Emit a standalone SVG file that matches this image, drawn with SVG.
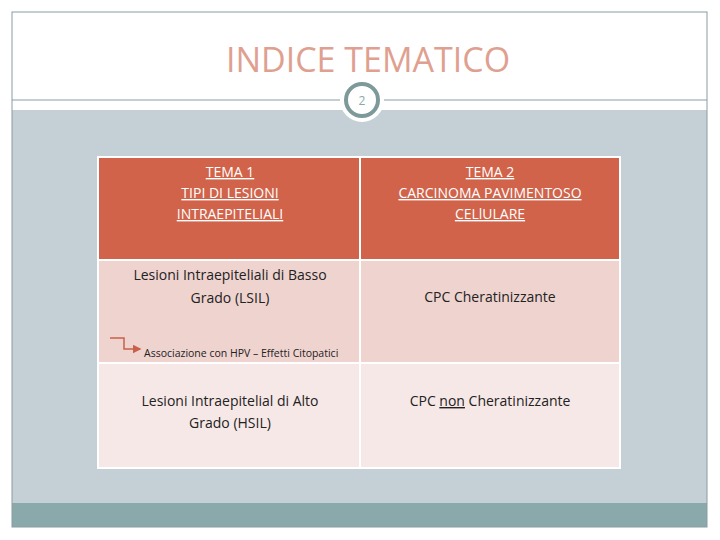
<svg xmlns="http://www.w3.org/2000/svg" width="720" height="540" viewBox="0 0 720 540">
<defs>
<style>
.t{font-family:"Open Sans","Liberation Sans",sans-serif;font-size:14px;text-anchor:middle}
.h{fill:#fff;text-decoration:underline}
.b{fill:#222}
</style>
<marker id="ar" markerWidth="6" markerHeight="6" refX="5" refY="3" orient="auto"><path d="M0,0L6,3L0,6z" fill="#c9604a"/></marker>
</defs>
<rect width="720" height="540" fill="#fff"/>
<rect x="12" y="110" width="695" height="393" fill="#c5d0d6"/>
<rect x="12" y="503" width="695" height="24" fill="#8aa9ab"/>
<rect x="12" y="12" width="695" height="515" fill="none" stroke="#8a9ca0" stroke-width="1"/>
<line x1="12" y1="100" x2="707" y2="100" stroke="#8a9ca0"/>
<circle cx="362" cy="100" r="22" fill="#fff"/>
<circle cx="362" cy="100" r="16" fill="#fff" stroke="#7e999a" stroke-width="4"/>
<text x="362" y="105" class="t" style="font-size:12px;fill:#8aa">2</text>
<text x="368" y="72" class="t" style="font-size:34px;fill:#e0a090">INDICE TEMATICO</text>
<g id="table">
<rect x="98" y="157" width="522" height="103" fill="#d0634a"/>
<rect x="98" y="260" width="522" height="103" fill="#efd3cf"/>
<rect x="98" y="363" width="522" height="105" fill="#f6e8e6"/>
<g stroke="#fff" stroke-width="2" fill="none"><rect x="98" y="157" width="522" height="311"/><line x1="360" y1="157" x2="360" y2="468"/><line x1="98" y1="260" x2="620" y2="260"/><line x1="98" y1="363" x2="620" y2="363"/></g>
</g>
<g id="n1"><text class="t h" x="230" y="177">TEMA 1</text><text class="t h" x="230" y="198">TIPI DI LESIONI</text><text class="t h" x="230" y="219">INTRAEPITELIALI</text></g>
<g id="n2"><text class="t h" x="490" y="177">TEMA 2</text><text class="t h" x="490" y="198">CARCINOMA PAVIMENTOSO</text><text class="t h" x="490" y="219">CELlULARE</text></g>
<g id="n3"><text class="t b" x="230" y="280">Lesioni Intraepiteliali di Basso</text><text class="t b" x="230" y="303">Grado (LSIL)</text></g>
<g id="n4"><text class="t b" x="490" y="302">CPC Cheratinizzante</text></g>
<g id="n5"><text class="t b" x="230" y="406">Lesioni Intraepitelial di Alto</text><text class="t b" x="230" y="428">Grado (HSIL)</text></g>
<g id="n6"><text class="t b" x="490" y="406">CPC <tspan text-decoration="underline">non</tspan> Cheratinizzante</text></g>
<g id="connectors"><polyline points="110,338 124,338 124,349 140,349" fill="none" stroke="#c9604a" stroke-width="1.5" marker-end="url(#ar)"/></g>
<text x="144" y="357" style="font-family:'Open Sans','Liberation Sans',sans-serif;font-size:10.5px;fill:#222">Associazione  con HPV – Effetti Citopatici</text>
</svg>
